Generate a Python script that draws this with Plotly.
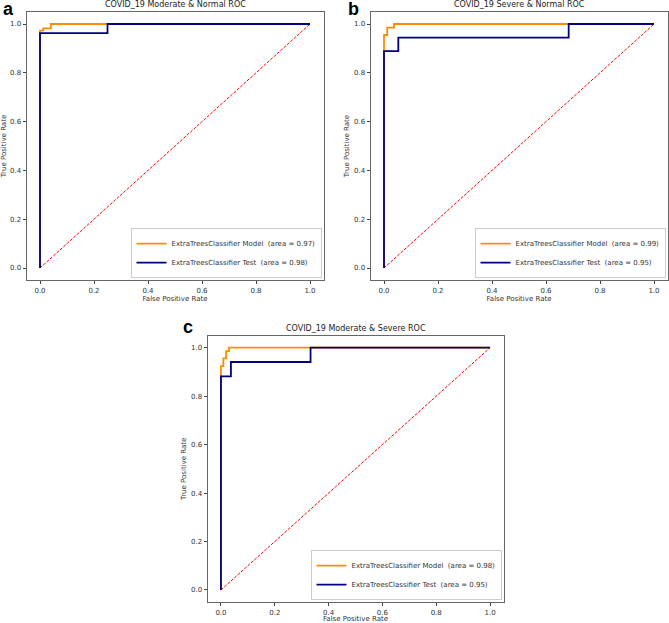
import plotly.graph_objects as go

# ---- data ----
panels = ["a", "b", "c"]
titles = ["COVID_19 Moderate & Normal ROC",
          "COVID_19 Severe & Normal ROC",
          "COVID_19 Moderate & Severe ROC"]

model_fpr_a = [0, 0, 0.012, 0.012, 0.04, 0.04, 1]
model_tpr_a = [0, 0.973, 0.973, 0.982, 0.982, 1, 1]
test_fpr_a = [0, 0, 0.25, 0.25, 1]
test_tpr_a = [0, 0.963, 0.963, 1, 1]

model_fpr_b = [0, 0, 0.012, 0.012, 0.037, 0.037, 1]
model_tpr_b = [0, 0.955, 0.955, 0.985, 0.985, 1, 1]
test_fpr_b = [0, 0, 0.053, 0.053, 0.684, 0.684, 1]
test_tpr_b = [0, 0.889, 0.889, 0.944, 0.944, 1, 1]

model_fpr_c = [0, 0, 0.009, 0.009, 0.019, 0.019, 0.03, 0.03, 1]
model_tpr_c = [0, 0.924, 0.924, 0.956, 0.956, 0.986, 0.986, 1, 1]
test_fpr_c = [0, 0, 0.037, 0.037, 0.333, 0.333, 1]
test_tpr_c = [0, 0.882, 0.882, 0.941, 0.941, 1, 1]

model_auc = [0.97, 0.99, 0.98]
test_auc = [0.98, 0.95, 0.95]

chance = [0, 1]
tick_vals = [0.0, 0.2, 0.4, 0.6, 0.8, 1.0]

curves = [
    (model_fpr_a, model_tpr_a, test_fpr_a, test_tpr_a),
    (model_fpr_b, model_tpr_b, test_fpr_b, test_tpr_b),
    (model_fpr_c, model_tpr_c, test_fpr_c, test_tpr_c),
]

# ---- layout geometry (pixels) ----
W, H = 669, 623
boxes = [  # left, right, top, bottom
    (26.5, 323.5, 11.8, 280.2),
    (370.5, 667.5, 11.8, 280.2),
    (207.5, 503.5, 335.6, 602.1),
]
label_pos = [(1, 9), (346, 9), (181, 327)]
font = "DejaVu Sans"

fig = go.Figure()
layout = dict(width=W, height=H, margin=dict(l=0, r=0, t=0, b=0),
              paper_bgcolor="white", plot_bgcolor="white",
              font=dict(family=font, size=7, color="#333"),
              annotations=[])

for i, (mf, mt, tf, tt) in enumerate(curves):
    sfx = "" if i == 0 else str(i + 1)
    xa, ya = "x" + sfx, "y" + sfx
    leg = "legend" + sfx
    fig.add_trace(go.Scatter(x=chance, y=chance, mode="lines", xaxis=xa, yaxis=ya,
                             line=dict(color="red", width=1, dash="3px,1.5px"),
                             showlegend=False))
    fig.add_trace(go.Scatter(x=mf, y=mt, mode="lines", xaxis=xa, yaxis=ya,
                             line=dict(color="darkorange", width=1.8),
                             name=f"ExtraTreesClassifier Model\u00a0\u00a0(area = {model_auc[i]:.2f})",
                             legend=leg))
    fig.add_trace(go.Scatter(x=tf, y=tt, mode="lines", xaxis=xa, yaxis=ya,
                             line=dict(color="navy", width=1.8),
                             name=f"ExtraTreesClassifier Test\u00a0\u00a0(area = {test_auc[i]:.2f})",
                             legend=leg))
    l, r, t, b = boxes[i]
    xd = [l / W, r / W]
    yd = [1 - b / H, 1 - t / H]
    axcommon = dict(range=[-0.05, 1.05], tickvals=tick_vals, tickformat=".1f",
                    ticks="outside", ticklen=3, tickcolor="#444",
                    showline=True, linecolor="#666", linewidth=1, mirror=True,
                    showgrid=False, zeroline=False, automargin=False,
                    tickfont=dict(size=7, color="#333"))
    layout["xaxis" + sfx] = dict(axcommon, domain=xd, anchor=ya,
                                 title=dict(text="False Positive Rate", standoff=2,
                                            font=dict(size=7, color="#333")))
    layout["yaxis" + sfx] = dict(axcommon, domain=yd, anchor=xa,
                                 title=dict(text="True Positive Rate", standoff=3,
                                            font=dict(size=7, color="#333")))
    layout[leg] = dict(x=xd[1] - 2 / W, y=yd[0] + 2 / H, xanchor="right", yanchor="bottom",
                       bgcolor="white", bordercolor="#ccc", borderwidth=1,
                       font=dict(size=7, color="#333"), itemwidth=30,
                       tracegroupgap=0)
    layout["annotations"].append(dict(text=titles[i], x=(xd[0] + xd[1]) / 2, y=yd[1],
                                      xref="paper", yref="paper", xanchor="center",
                                      yanchor="bottom", yshift=1, showarrow=False,
                                      font=dict(size=8, color="#222")))
    lx, ly = label_pos[i]
    layout["annotations"].append(dict(text=f"<b>{panels[i]}</b>", x=lx / W, y=1 - ly / H,
                                      xref="paper", yref="paper", xanchor="left",
                                      yanchor="middle", showarrow=False,
                                      font=dict(family="Liberation Sans", size=18, color="black")))

fig.update_layout(**layout)
fig.write_html("out.html", config={"displayModeBar": False},
               post_script="document.body.style.margin='0';document.body.style.overflow='hidden';")
